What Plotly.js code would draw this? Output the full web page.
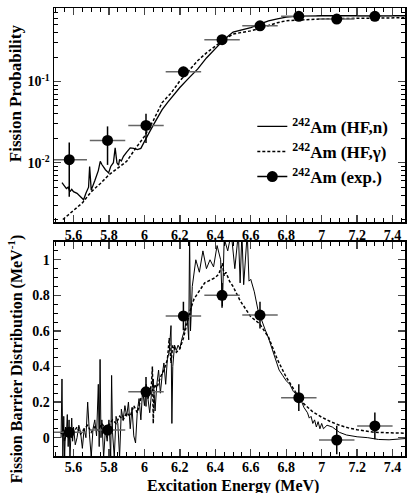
<!DOCTYPE html>
<html>
<head>
<meta charset="utf-8">
<script src="https://cdn.plot.ly/plotly-3.0.1.min.js"></script>
<style>html,body{margin:0;padding:0;background:#fff;}#chart{width:407px;height:493px;}</style>
</head>
<body>
<div id="chart"></div>
<script>
// ---------- tick labels ----------
const energyTicks = [5.6,5.8,6.0,6.2,6.4,6.6,6.8,7.0,7.2,7.4];
const energyTickText = ['5.6','5.8','6','6.2','6.4','6.6','6.8','7','7.2','7.4'];
const probTicks = [0.01,0.1];
const probTickText = ['10<sup>-2</sup>','10<sup>-1</sup>'];
const fbdTicks = [0,0.2,0.4,0.6,0.8,1.0];
const fbdTickText = ['0','0.2','0.4','0.6','0.8','1'];

// ---------- top panel: fission probability ----------
const topHFnE = [5.535,5.55,5.56,5.57,5.58,5.59,5.60,5.62,5.64,5.657,5.67,5.685,5.691,5.70,5.72,5.74,5.751,5.76,5.78,5.798,5.81,5.825,5.835,5.845,5.854,5.86,5.87,5.882,5.90,5.92,5.94,5.96,5.98,6.00,6.02,6.05,6.08,6.10,6.13,6.15,6.20,6.25,6.30,6.35,6.40,6.45,6.50,6.55,6.60,6.65,6.70,6.75,6.80,6.85,6.90,7.00,7.20,7.47];
const topHFnP = [0.0057,0.0052,0.0048,0.0050,0.0044,0.0047,0.0044,0.0042,0.0038,0.0035,0.0042,0.0050,0.0090,0.0046,0.0060,0.0080,0.0104,0.0095,0.0082,0.0075,0.0090,0.0100,0.0152,0.0100,0.0093,0.0110,0.0105,0.0120,0.0135,0.0152,0.0150,0.0145,0.0150,0.0185,0.0220,0.0290,0.0380,0.0450,0.0550,0.0620,0.0843,0.110,0.142,0.195,0.250,0.330,0.406,0.430,0.460,0.510,0.556,0.590,0.620,0.635,0.640,0.645,0.645,0.645];
const topHFgE = [5.54,5.60,5.65,5.70,5.75,5.80,5.85,5.90,5.95,6.00,6.05,6.10,6.15,6.20,6.25,6.30,6.35,6.40,6.45,6.50,6.55,6.60,6.65,6.70,6.75,6.80,6.90,7.00,7.20,7.47];
const topHFgP = [0.0020,0.0026,0.0032,0.0044,0.0055,0.0071,0.0085,0.0104,0.0150,0.0211,0.0330,0.0550,0.0720,0.1017,0.135,0.180,0.225,0.275,0.330,0.384,0.400,0.420,0.450,0.490,0.530,0.560,0.580,0.590,0.600,0.610];
const expE = [5.576,5.792,6.009,6.220,6.438,6.652,6.871,7.085,7.300];
const expEerr = [0.1,0.1,0.1,0.1,0.1,0.1,0.1,0.1,0.1];
const expP = [0.0109,0.0188,0.0288,0.1315,0.327,0.485,0.634,0.587,0.634];
const expPerrUp = [0.0069,0.0092,0.0112,0.02,0.02,0.02,0.02,0.02,0.02];
const expPerrDn = [0.0071,0.0094,0.0113,0.02,0.02,0.02,0.02,0.02,0.02];

// ---------- bottom panel: fission barrier distribution ----------
const botHFnE = [5.530,5.535,5.540,5.545,5.550,5.555,5.560,5.565,5.570,5.575,5.580,5.585,5.590,5.595,5.600,5.610,5.620,5.630,5.640,5.650,5.660,5.670,5.680,5.690,5.700,5.710,5.720,5.730,5.740,5.745,5.750,5.755,5.760,5.770,5.780,5.790,5.800,5.810,5.815,5.820,5.830,5.840,5.850,5.860,5.870,5.880,5.890,5.900,5.910,5.920,5.930,5.940,5.950,5.960,5.970,5.980,5.990,6.000,6.010,6.020,6.030,6.040,6.050,6.060,6.070,6.080,6.090,6.100,6.110,6.120,6.130,6.140,6.150,6.155,6.160,6.170,6.180,6.190,6.200,6.210,6.220,6.230,6.240,6.250,6.255,6.260,6.270,6.290,6.310,6.330,6.350,6.370,6.390,6.410,6.430,6.440,6.450,6.470,6.490,6.510,6.530,6.540,6.550,6.560,6.580,6.590,6.600,6.620,6.640,6.660,6.680,6.700,6.720,6.740,6.760,6.780,6.800,6.820,6.840,6.860,6.880,6.900,6.920,6.930,6.940,6.950,6.960,6.970,6.980,6.990,7.000,7.010,7.030,7.060,7.100,7.140,7.200,7.260,7.320,7.380,7.470];
const botHFnV = [0.00,0.33,-0.11,0.12,-0.11,0.06,0.02,0.13,-0.05,0.10,-0.11,0.04,0.11,-0.02,0.06,-0.04,0.00,0.07,0.03,-0.06,0.05,0.00,0.20,0.02,-0.11,0.05,0.10,0.01,0.30,-0.05,0.44,0.00,0.10,-0.11,0.05,-0.02,0.10,-0.11,0.35,0.03,-0.11,0.12,0.08,-0.11,0.16,0.10,0.18,0.12,0.20,0.05,0.17,0.01,-0.03,0.15,0.22,0.10,0.27,0.18,0.30,0.22,0.14,0.25,0.33,0.15,0.30,0.38,0.25,0.35,0.42,0.30,0.45,0.48,0.63,0.08,0.40,0.52,0.49,0.52,0.50,0.55,0.58,0.62,0.70,0.55,1.15,0.60,0.85,1.00,0.93,1.05,0.95,1.00,0.96,1.08,1.00,0.74,1.12,1.05,1.15,0.95,1.15,0.87,1.15,0.86,1.15,0.88,0.89,0.82,0.72,0.66,0.61,0.56,0.50,0.43,0.38,0.35,0.32,0.30,0.26,0.24,0.22,0.17,0.14,0.11,0.12,0.08,0.10,0.06,0.09,0.05,0.08,0.05,0.07,0.06,0.03,0.015,0.005,0.0,-0.01,-0.012,-0.005];
const botHFgE = [5.530,5.540,5.550,5.560,5.570,5.580,5.590,5.600,5.620,5.640,5.660,5.680,5.700,5.720,5.740,5.760,5.780,5.800,5.820,5.840,5.860,5.880,5.900,5.920,5.940,5.960,5.980,6.000,6.020,6.040,6.045,6.050,6.055,6.070,6.090,6.110,6.130,6.140,6.150,6.160,6.170,6.180,6.200,6.220,6.240,6.260,6.280,6.300,6.320,6.340,6.360,6.380,6.400,6.420,6.440,6.450,6.460,6.480,6.500,6.520,6.540,6.560,6.580,6.600,6.650,6.700,6.750,6.800,6.850,6.900,6.950,7.000,7.050,7.100,7.150,7.200,7.300,7.400,7.470];
const botHFgV = [0.02,0.05,-0.02,0.04,0.01,0.05,0.00,0.03,0.06,0.02,0.05,0.07,0.03,0.06,0.04,0.08,0.05,0.07,0.10,0.08,0.12,0.10,0.14,0.12,0.18,0.14,0.22,0.25,0.22,0.30,0.40,0.08,0.30,0.28,0.34,0.38,0.44,0.56,0.42,0.52,0.50,0.48,0.50,0.56,0.64,0.72,0.78,0.81,0.84,0.87,0.88,0.89,0.90,0.92,0.98,0.91,0.93,0.88,0.85,0.81,0.77,0.74,0.71,0.68,0.64,0.565,0.44,0.34,0.26,0.19,0.145,0.115,0.09,0.07,0.055,0.045,0.03,0.026,0.025];
const expFbd = [0.03,0.043,0.258,0.684,0.80,0.689,0.225,-0.013,0.066];
const expFbdErr = [0.03,0.03,0.083,0.08,0.07,0.075,0.075,0.08,0.075];

const serif = 'Liberation Serif';
const bold = s => '<b>' + s + '</b>';
const tickFont = {family: serif, size: 14, color: '#000', weight: 700};
const titleFont = {family: serif, size: 16, color: '#000', weight: 700};
const errX = {type:'data', array: expEerr, color:'#666', thickness:1.5, width:0};

const traces = [
  {x: topHFnE, y: topHFnP, xaxis:'x', yaxis:'y', mode:'lines', name:bold('<sup>242</sup>Am (HF,n)'),
   line:{color:'#000', width:1.3}, legendgroup:'a'},
  {x: topHFgE, y: topHFgP, xaxis:'x', yaxis:'y', mode:'lines', name:bold('<sup>242</sup>Am (HF,γ)'),
   line:{color:'#000', width:1.5, dash:'3px,2px'}, legendgroup:'b'},
  {x: expE, y: expP, xaxis:'x', yaxis:'y', mode:'markers', showlegend:false,
   marker:{color:'#000', size:11}, error_x: errX,
   error_y:{type:'data', symmetric:false, array: expPerrUp, arrayminus: expPerrDn, color:'#000', thickness:1.5, width:0}},
  {x:[null], y:[null], xaxis:'x', yaxis:'y', mode:'lines+markers', name:bold('<sup>242</sup>Am (exp.)'),
   line:{color:'#000', width:1.5}, marker:{color:'#000', size:11}, legendgroup:'c'},
  {x: botHFnE, y: botHFnV, xaxis:'x2', yaxis:'y2', mode:'lines', showlegend:false,
   line:{color:'#000', width:1}},
  {x: botHFgE, y: botHFgV, xaxis:'x2', yaxis:'y2', mode:'lines', showlegend:false,
   line:{color:'#000', width:1.5, dash:'3px,2px'}},
  {x: expE, y: expFbd, xaxis:'x2', yaxis:'y2', mode:'markers', showlegend:false,
   marker:{color:'#000', size:11}, error_x: errX,
   error_y:{type:'data', array: expFbdErr, color:'#000', thickness:1.5, width:0}}
];

const xCommon = {range:[5.49,7.47], tickmode:'array', tickvals: energyTicks, ticktext: energyTickText.map(bold),
  ticks:'inside', ticklen:7, tickwidth:1.3,
  showline:true, linewidth:1.5, linecolor:'#000', mirror:'ticks', showgrid:false, zeroline:false,
  tickfont: tickFont, minor:{tickmode:'linear', tick0:0, dtick:0.05, ticks:'inside', ticklen:4, tickcolor:'#000', tickwidth:1}};

const layout = {
  width:407, height:493, margin:{l:54, r:2, t:8, b:37},
  paper_bgcolor:'#fff', plot_bgcolor:'#fff', showlegend:true,
  font:{family: serif, color:'#000'},
  xaxis: Object.assign({}, xCommon, {anchor:'y', domain:[0,1]}),
  yaxis: {type:'log', range:[-2.73,-0.095], domain:[0.5223,1], anchor:'x',
    tickmode:'array', tickvals: probTicks, ticktext: probTickText.map(bold),
    ticks:'inside', ticklen:7, tickwidth:1.3, showline:true, linewidth:1.5, linecolor:'#000', mirror:'ticks',
    showgrid:false, zeroline:false, tickfont: tickFont,
    minor:{tickmode:'array', tickvals:[0.002,0.003,0.004,0.005,0.006,0.007,0.008,0.009,0.02,0.03,0.04,0.05,0.06,0.07,0.08,0.09,0.2,0.3,0.4,0.5,0.6,0.7,0.8], ticks:'inside', ticklen:4, tickcolor:'#000', tickwidth:1}},
  xaxis2: Object.assign({}, xCommon, {anchor:'y2', domain:[0,1], ticklabelstandoff:-2}),
  yaxis2: {range:[-0.103,1.10], tickmode:'array', tickvals: fbdTicks, ticktext: fbdTickText.map(bold),
    domain:[0,0.4777], anchor:'x2',
    ticks:'inside', ticklen:7, tickwidth:1.3, showline:true, linewidth:1.5, linecolor:'#000', mirror:'ticks',
    showgrid:false, zeroline:false, tickfont: tickFont,
    minor:{tickmode:'linear', tick0:0, dtick:0.05, ticks:'inside', ticklen:4, tickcolor:'#000', tickwidth:1}},
  annotations: [
    {text:bold('Fission Probability'), xref:'paper', yref:'paper', x:-0.111, y:0.81,
     xanchor:'center', yanchor:'middle', textangle:-90, showarrow:false, font:{family: serif, size:17, color:'#000', weight:700}},
    {text:bold('Fission Barrier Distribution (MeV<sup>-1</sup>)'), xref:'paper', yref:'paper', x:-0.111, y:0.216,
     xanchor:'center', yanchor:'middle', textangle:-90, showarrow:false, font:titleFont},
    {text:bold('Excitation Energy (MeV)'), xref:'paper', yref:'paper', x:0.51, y:-0.067,
     xanchor:'center', yanchor:'middle', showarrow:false, font:titleFont}
  ],
  legend:{x:0.565, y:0.775, xanchor:'left', yanchor:'top', bgcolor:'rgba(0,0,0,0)',
    font:{family: serif, size:17, color:'#000'}, tracegroupgap:0, traceorder:'grouped'}
};

Plotly.newPlot('chart', traces, layout, {displayModeBar:false, staticPlot:true});
</script>
</body>
</html>
